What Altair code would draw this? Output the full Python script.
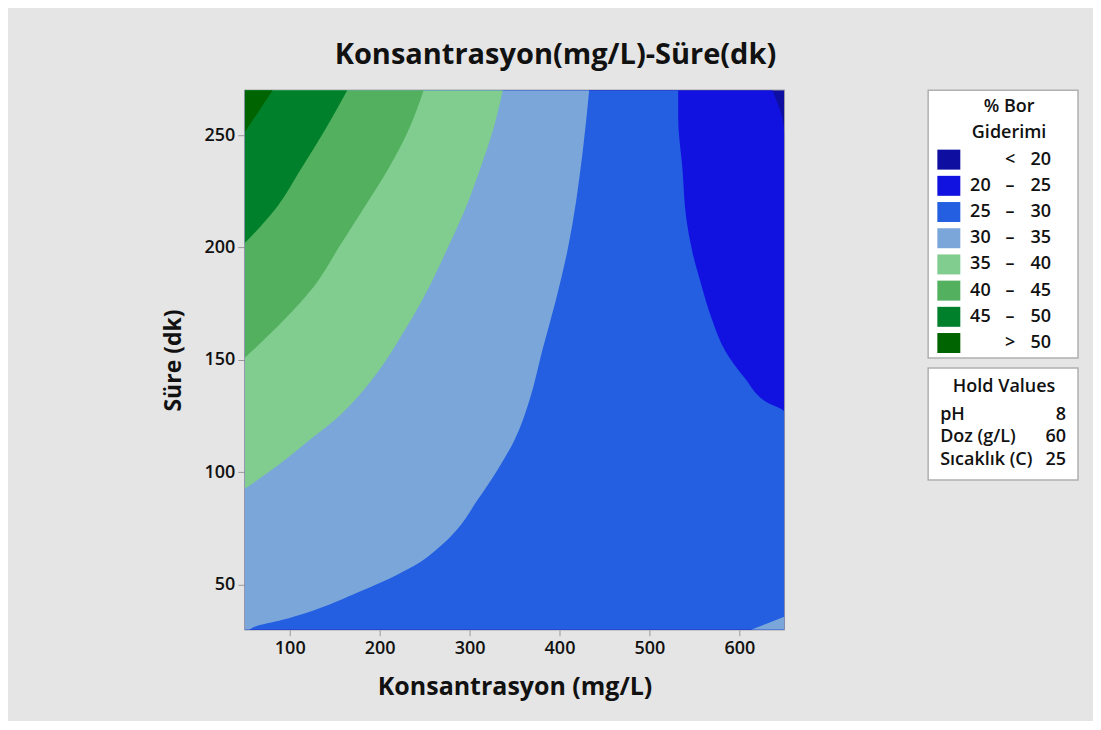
import altair as alt
import pandas as pd

# ---------------- data ----------------
levels = ["< 20", "20 – 25", "25 – 30", "30 – 35", "35 – 40", "40 – 45", "45 – 50", "> 50"]
lows = ["", "20", "25", "30", "35", "40", "45", ""]
symbols = ["<", "–", "–", "–", "–", "–", "–", ">"]
highs = ["20", "25", "30", "35", "40", "45", "50", "50"]
colors = ["#0E0EA0", "#1212E0", "#235FE0", "#7BA6D9", "#80CD8F", "#52B05E", "#00802A", "#006400"]

# contour region outlines: right-hand boundary x (mg/L) at each y (dk)
reg_lt20_x = [650, 650]
reg_lt20_y = [30, 270]
reg_20_25_x = [650, 650, 636.7]
reg_20_25_y = [30, 250.9, 270]
reg_25_30_x = [650, 650, 630, 606, 585, 569, 557.8, 547.8, 541, 536.7, 532, 532]
reg_25_30_y = [30, 126.9, 131.3, 142, 153.6, 168.7, 183.3, 198, 213, 235.3, 257.6, 270]
reg_30_35_x = [55, 59, 92, 119, 178, 219, 244, 263, 285.6, 309, 331, 350, 366.7, 381, 396, 409, 426, 433]
reg_30_35_y = [30, 31, 34.4, 37.6, 47, 54.4, 59.8, 65.6, 74.4, 87.8, 101.1, 114.4, 132.2, 154.4, 176.7, 198.9, 243.3, 270]
reg_30_35b_x = [613, 650]          # small patch at bottom-right (left boundary)
reg_30_35b_y = [30, 35.8]
reg_35_40_x = [50, 92, 122, 150, 191, 228, 256, 277, 296, 312, 326, 337]
reg_35_40_y = [92.7, 104.7, 114.4, 123.3, 141, 163.3, 183.3, 201, 218, 235.3, 252.2, 270]
reg_40_45_x = [50, 94, 128, 156, 183, 210, 232, 249]
reg_40_45_y = [151, 168, 183.3, 201, 218, 235.3, 252.2, 270]
reg_45_50_x = [50, 85.6, 113, 139, 164]
reg_45_50_y = [202, 218, 235.3, 252.2, 270]
reg_gt50_x = [50, 81]
reg_gt50_y = [251.3, 270]

x_ticks = [100, 200, 300, 400, 500, 600]
y_ticks = [50, 100, 150, 200, 250]

hold_names = ["pH", "Doz (g/L)", "Sıcaklık (C)"]
hold_values = ["8", "60", "25"]

# ---------------- chart ----------------
FONT = "Open Sans"
TXT = "#111111"
regions = [
    ("< 20", reg_lt20_x, reg_lt20_y, 50),
    ("20 – 25", reg_20_25_x, reg_20_25_y, 50),
    ("25 – 30", reg_25_30_x, reg_25_30_y, 50),
    ("30 – 35", reg_30_35_x, reg_30_35_y, 50),
    ("30 – 35", reg_30_35b_x, reg_30_35b_y, 650),
    ("35 – 40", reg_35_40_x, reg_35_40_y, 50),
    ("40 – 45", reg_40_45_x, reg_40_45_y, 50),
    ("45 – 50", reg_45_50_x, reg_45_50_y, 50),
    ("> 50", reg_gt50_x, reg_gt50_y, 50),
]

color_scale = alt.Scale(domain=levels, range=colors)
xs = alt.Scale(domain=[50, 650], nice=False, zero=False)
ys = alt.Scale(domain=[30, 270], nice=False, zero=False)

x_axis = alt.Axis(values=x_ticks, title="Konsantrasyon (mg/L)", grid=False, domain=False,
                  tickColor="#9a9a9a", tickSize=6, labelFontSize=18, labelFontWeight=600,
                  labelColor=TXT, labelPadding=4, titleFontSize=25, titleFontWeight="bold",
                  titleColor=TXT, titlePadding=17, labelFlush=False)
y_axis = alt.Axis(values=y_ticks, title="Süre (dk)", grid=False, domain=False,
                  tickColor="#9a9a9a", tickSize=7, labelFontSize=18, labelFontWeight=600,
                  labelColor=TXT, labelPadding=3, titleFontSize=23, titleFontWeight="bold",
                  titleColor=TXT, titlePadding=18, labelFlush=False)

layers = []
for lvl, rx, ry, base in regions:
    df = pd.DataFrame({"x": rx, "y": ry, "base": [base] * len(rx), "level": [lvl] * len(rx)})
    layers.append(
        alt.Chart(df).mark_area(orient="horizontal", clip=True, strokeWidth=0,
                                interpolate="monotone").encode(
            y=alt.Y("y:Q", scale=ys, axis=y_axis),
            x=alt.X("x:Q", scale=xs, axis=x_axis, stack=None),
            x2="base:Q",
            color=alt.Color("level:N", scale=color_scale, legend=None),
        )
    )

main = alt.layer(*layers).properties(
    width=540, height=540,
    view=alt.ViewBackground(stroke="#a8a8a8", strokeWidth=1.5, fill="white"),
)

# ---------------- legend panel ----------------
LFS = 18
leg_df = pd.DataFrame({"level": levels, "low": lows, "sym": symbols, "high": highs})
leg_title_df = pd.DataFrame({"row": ["% Bor", "Giderimi"]})
leg_rows = ["% Bor", "Giderimi"] + levels
leg_scale = alt.Scale(type="point", domain=leg_rows, range=[17, 253], padding=0)
ly = alt.Y("row:N", scale=leg_scale, axis=None)
ly_lvl = alt.Y("level:N", scale=leg_scale, axis=None)

leg_title = alt.Chart(leg_title_df).mark_text(fontSize=LFS, fontWeight=600, font=FONT, color=TXT).encode(
    y=ly, x=alt.value(81), text="row:N")
swatch = alt.Chart(leg_df).mark_rect(width=23, height=20).encode(
    y=ly_lvl, x=alt.value(20.7), color=alt.Color("level:N", scale=color_scale, legend=None))
t_low = alt.Chart(leg_df).mark_text(align="left", fontSize=LFS, fontWeight=600, font=FONT, color=TXT).encode(
    y=ly_lvl, x=alt.value(42), text="low:N")
t_sym = alt.Chart(leg_df).mark_text(align="center", fontSize=LFS, fontWeight=600, font=FONT, color=TXT).encode(
    y=ly_lvl, x=alt.value(82), text="sym:N")
t_high = alt.Chart(leg_df).mark_text(align="right", fontSize=LFS, fontWeight=600, font=FONT, color=TXT).encode(
    y=ly_lvl, x=alt.value(123), text="high:N")

legend_panel = alt.layer(leg_title, swatch, t_low, t_sym, t_high).properties(
    width=150, height=268,
    view=alt.ViewBackground(fill="white", stroke="#b0b0b0", strokeWidth=1.5),
)

# ---------------- hold values panel ----------------
hold_df = pd.DataFrame({"name": hold_names, "val": hold_values})
hy = alt.Y("name:N", scale=alt.Scale(type="point", domain=hold_names, range=[47, 92], padding=0), axis=None)
hold_title = alt.Chart(pd.DataFrame({"t": ["Hold Values"]})).mark_text(
    fontSize=LFS, fontWeight=600, font=FONT, color=TXT).encode(
    x=alt.value(76), y=alt.value(19), text="t:N")
hold_names_t = alt.Chart(hold_df).mark_text(align="left", fontSize=LFS, fontWeight=600, font=FONT, color=TXT).encode(
    y=hy, x=alt.value(12), text="name:N")
hold_vals_t = alt.Chart(hold_df).mark_text(align="right", fontSize=LFS, fontWeight=600, font=FONT, color=TXT).encode(
    y=hy, x=alt.value(138), text="val:N")
hold_panel = alt.layer(hold_title, hold_names_t, hold_vals_t).properties(
    width=150, height=112,
    view=alt.ViewBackground(fill="white", stroke="#b0b0b0", strokeWidth=1.5),
)

side = alt.vconcat(legend_panel, hold_panel, spacing=8)

chart = alt.hconcat(main, side, spacing=142).properties(
    title=alt.TitleParams("Konsantrasyon(mg/L)-Süre(dk)", fontSize=29, fontWeight="bold",
                          font=FONT, color=TXT, anchor="start", frame="group", dx=90, offset=20),
    padding={"left": 154, "top": 32, "right": 14, "bottom": 20},
    background="#e5e5e5",
).configure(font=FONT).configure_axis(labelFont=FONT, titleFont=FONT)

chart.save("out.html", embed_options={"renderer": "svg", "actions": False})
